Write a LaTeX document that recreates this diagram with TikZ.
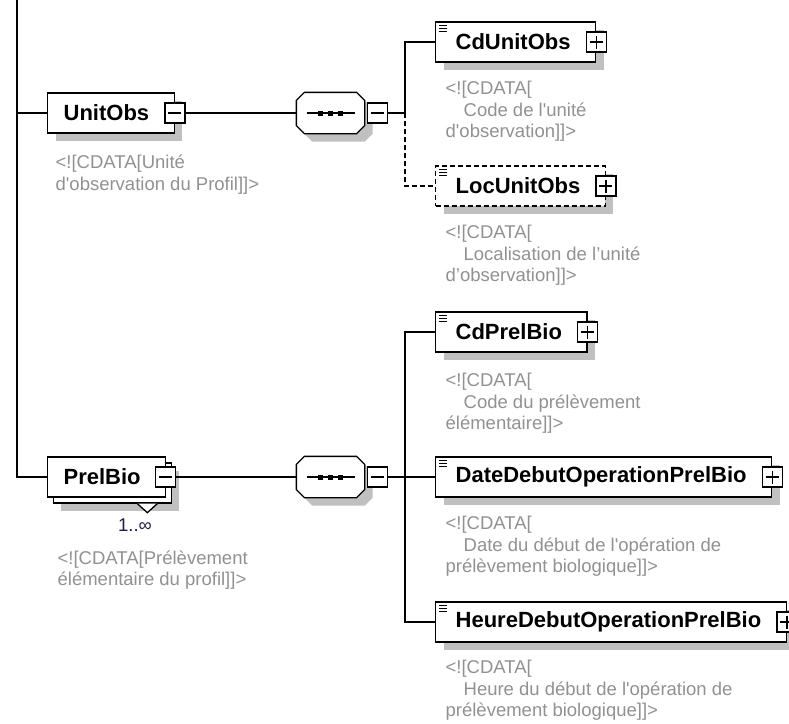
\documentclass[tikz,border=0pt]{standalone}
\usepackage{fontspec}
\setmainfont{Liberation Sans}[Ligatures=TeXOff]
\usetikzlibrary{shadows}

\definecolor{anngray}{RGB}{145,145,145}
\definecolor{shadowgray}{RGB}{192,192,192}
\definecolor{cardnavy}{RGB}{30,30,70}

\newcommand\elemfont{\fontsize{22}{26}\selectfont\bfseries}
\newcommand\annfont{\fontsize{18.5}{21.5}\selectfont}

\begin{document}
\begin{tikzpicture}[
  x=1pt, y=-1pt,
  line width=1.3pt,
  shadowed/.style={general shadow={fill=shadowgray, shadow xshift=8pt, shadow yshift=-8pt}},
  stacked/.style={general shadow={fill=shadowgray, shadow xshift=13pt, shadow yshift=-14pt},
                  general shadow={draw=black, fill=white, shadow xshift=6pt, shadow yshift=-6pt}},
  elem/.style={draw, fill=white, anchor=west, minimum height=40pt, inner xsep=0pt, inner ysep=0pt,
               font=\elemfont, execute at begin node=\hspace*{#1}, execute at end node=\hspace*{25pt}},
  elem/.default=20pt,
  dashline/.style={dash pattern=on 5pt off 3pt},
  seqbox/.style={minimum width=67pt, minimum height=40pt, inner sep=0pt},
  pmbox/.style={draw, fill=white, minimum size=20pt, inner sep=0pt},
  minusbox/.style={pmbox, path picture={
                   \draw ([xshift=3.5pt]path picture bounding box.west) -- ([xshift=-3.5pt]path picture bounding box.east);}},
  plusbox/.style={pmbox, path picture={
                   \draw ([xshift=3.5pt]path picture bounding box.west) -- ([xshift=-3.5pt]path picture bounding box.east);
                   \draw ([yshift=-3.5pt]path picture bounding box.north) -- ([yshift=3.5pt]path picture bounding box.south);}},
  ann/.style={anchor=north west, align=left, inner sep=0pt, font=\annfont, text=anngray},
]
\useasboundingbox (0,0) rectangle (789,723);
\clip (0,0) rectangle (789,723);

% left column
\coordinate (trunk) at (17,0);
\node[elem=16pt, shadowed] (UnitObs) at (47,113) {UnitObs};
\node[minusbox] (UnitObs-pm) at (UnitObs.east) {};
\node[ann] (UnitObs-doc) at ([xshift=8pt,yshift=-21pt]UnitObs.south west) {<![CDATA[Unité\\d'observation du Profil]]>};

\node[elem=16pt, stacked] (PrelBio) at (47,477) {PrelBio};
\node[minusbox] (PrelBio-pm) at ([xshift=-1pt]PrelBio.east) {};
\draw[fill=white] ([xshift=-29pt,yshift=-6pt]PrelBio.south east) -- ++(10,9) -- ++(10,-9);
\node[font=\annfont, text=cardnavy] (PrelBio-card) at (135,525) {1..∞};
\node[ann] (PrelBio-doc) at (57,550) {<![CDATA[Prélèvement\\élémentaire du profil]]>};

% sequences
\node[seqbox] (seq1) at (330.5,113) {};
\node[seqbox] (seq2) at (330.5,477) {};
\foreach \s in {seq1,seq2} {
  \draw[fill=white, shadowed] ([xshift=8pt]\s.north west) -- ([xshift=-8pt]\s.north east)
    -- ([yshift=-8pt]\s.north east) -- ([yshift=8pt]\s.south east)
    -- ([xshift=-8pt]\s.south east) -- ([xshift=8pt]\s.south west)
    -- ([yshift=8pt]\s.south west) -- ([yshift=-8pt]\s.north west) -- cycle;
  \draw ([xshift=-24pt]\s.center) -- ([xshift=24pt]\s.center);
  \foreach \dx in {-10,0,10}
    \fill ([xshift=\dx pt]\s.center) +(-2.5,-2.5) rectangle +(2.5,2.5);
}
\node[minusbox, anchor=west] (seq1-pm) at ([xshift=2pt]seq1.east) {};
\node[minusbox, anchor=west] (seq2-pm) at ([xshift=2pt]seq2.east) {};
\coordinate (fork1) at (405,113);
\coordinate (fork2) at (405,477);

% children
\node[elem, shadowed] (CdUnitObs) at (435,42) {CdUnitObs};
\node[plusbox] (CdUnitObs-pm) at (CdUnitObs.east) {};
\node[ann] (CdUnitObs-doc) at ([xshift=10pt,yshift=-18pt]CdUnitObs.south west) {<![CDATA[\\\hspace*{18pt}Code de l'unité\\d'observation]]>};

\node[elem, shadowed, dashline] (LocUnitObs) at (435,186) {LocUnitObs};
\node[plusbox] (LocUnitObs-pm) at (LocUnitObs.east) {};
\node[ann] (LocUnitObs-doc) at ([xshift=10pt,yshift=-18pt]LocUnitObs.south west) {<![CDATA[\\\hspace*{18pt}Localisation de l’unité\\d’observation]]>};

\node[elem, shadowed] (CdPrelBio) at (435,332) {CdPrelBio};
\node[plusbox] (CdPrelBio-pm) at (CdPrelBio.east) {};
\node[ann] (CdPrelBio-doc) at ([xshift=10pt,yshift=-20pt]CdPrelBio.south west) {<![CDATA[\\\hspace*{18pt}Code du prélèvement\\élémentaire]]>};

\node[elem, shadowed] (DateDebut) at (435,477) {DateDebutOperationPrelBio};
\node[plusbox] (DateDebut-pm) at (DateDebut.east) {};
\node[ann] (DateDebut-doc) at ([xshift=10pt,yshift=-18pt]DateDebut.south west) {<![CDATA[\\\hspace*{18pt}Date du début de l'opération de\\prélèvement biologique]]>};

\node[elem, shadowed] (HeureDebut) at (435,622) {HeureDebutOperationPrelBio};
\node[plusbox] (HeureDebut-pm) at (HeureDebut.east) {};
\node[ann] (HeureDebut-doc) at ([xshift=10pt,yshift=-17pt]HeureDebut.south west) {<![CDATA[\\\hspace*{18pt}Heure du début de l'opération de\\prélèvement biologique]]>};

% element icons
\foreach \n in {CdUnitObs,LocUnitObs,CdPrelBio,DateDebut,HeureDebut}
  \foreach \dy in {4,7,10}
    \draw[line width=1pt] ([xshift=4pt,yshift=-\dy pt]\n.north west) -- ++(8,0);

% connectors
\draw (trunk) |- (PrelBio.west);
\draw (UnitObs.west -| trunk) -- (UnitObs.west);
\draw (UnitObs-pm) -- (seq1);
\draw (seq1-pm.east) -- (fork1) |- (CdUnitObs.west);
\draw[dashline] (fork1) |- (LocUnitObs.west);
\draw (PrelBio-pm) -- (seq2);
\draw (seq2-pm.east) -- (fork2) -- (DateDebut.west);
\draw (CdPrelBio.west) -| (fork2) |- (HeureDebut.west);
\end{tikzpicture}
\end{document}
